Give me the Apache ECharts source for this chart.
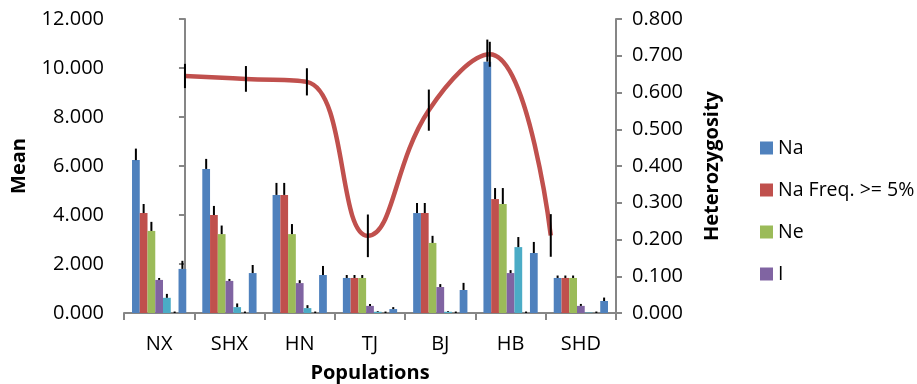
<!DOCTYPE html>
<html>
<head>
<meta charset="utf-8">
<script src="https://cdn.jsdelivr.net/npm/echarts@6/dist/echarts.min.js"></script>
<style>
  html, body { margin: 0; padding: 0; background: #fff; }
  #main { width: 917px; height: 384px; }
</style>
</head>
<body>
<div id="main"></div>
<script>
// populations on the x axis
const populations = ['NX', 'SHX', 'HN', 'TJ', 'BJ', 'HB', 'SHD'];

// bar series (left axis, Mean) with their +error
const na = [6.24, 5.88, 4.82, 1.43, 4.08, 10.26, 1.43];
const naErr = [0.47, 0.41, 0.49, 0.12, 0.41, 0.90, 0.10];
const naFreq = [4.08, 4.00, 4.82, 1.43, 4.08, 4.65, 1.43];
const naFreqErr = [0.37, 0.37, 0.49, 0.12, 0.41, 0.45, 0.10];
const ne = [3.35, 3.22, 3.22, 1.43, 2.86, 4.45, 1.43];
const neErr = [0.37, 0.35, 0.41, 0.12, 0.29, 0.65, 0.10];
const iVals = [1.35, 1.31, 1.22, 0.29, 1.06, 1.63, 0.29];
const iErr = [0.08, 0.08, 0.12, 0.08, 0.12, 0.12, 0.08];
const privAlleles = [0.62, 0.24, 0.20, 0.05, 0.05, 2.69, 0.02];
const privErr = [0.16, 0.15, 0.12, 0.03, 0.03, 0.41, 0.00];
const lComm25 = [0, 0, 0, 0, 0, 0, 0];
const lComm25Err = [0.06, 0.06, 0.06, 0.06, 0.06, 0.06, 0.06];
const lComm50 = [1.80, 1.63, 1.55, 0.16, 0.94, 2.45, 0.49];
const lComm50Err = [0.33, 0.33, 0.37, 0.08, 0.29, 0.45, 0.14];

// line (right axis, Heterozygosity) with +/- error
const he = [0.645, 0.637, 0.629, 0.210, 0.552, 0.704, 0.211];
const heErr = [0.033, 0.035, 0.037, 0.058, 0.056, 0.034, 0.058];

const meanTicks = { min: 0, max: 12, interval: 2 };
const hetTicks = { min: 0, max: 0.8, interval: 0.1 };

const FONT = 'Open Sans';
const FS = 20;
const catGap = 0.228;

const bars = [
    { name: 'Na', color: '#4F81BD', values: na, err: naErr },
    { name: 'Na Freq. >= 5%', color: '#C0504D', values: naFreq, err: naFreqErr },
    { name: 'Ne', color: '#9BBB59', values: ne, err: neErr },
    { name: 'I', color: '#8064A2', values: iVals, err: iErr },
    { name: 'No. Private Alleles', color: '#4BACC6', values: privAlleles, err: privErr },
    { name: 'No. LComm Alleles (<=25%)', color: '#F79646', values: lComm25, err: lComm25Err },
    { name: 'No. LComm Alleles (<=50%)', color: '#4F81BD', values: lComm50, err: lComm50Err }
];

const barErrData = [];
bars.forEach((b, k) => {
    b.values.forEach((v, i) => barErrData.push([i, v, b.err[i], k]));
});

const chart = echarts.init(document.getElementById('main'));

const axisLine = { show: true, lineStyle: { color: '#868686', width: 2 } };
const axisTick = { show: true, length: 6, lineStyle: { color: '#868686', width: 2 } };

const option = {
    animation: false,
    textStyle: { fontFamily: FONT },
    legend: {
        orient: 'vertical',
        left: 755,
        top: 133,
        itemWidth: 13,
        itemHeight: 13,
        itemGap: 22,
        icon: 'rect',
        data: ['Na', 'Na Freq. >= 5%', 'Ne', 'I'],
        textStyle: { fontFamily: FONT, fontSize: 19.5, color: '#000', lineHeight: 20 }
    },
    grid: { left: 124, right: 301, top: 19, bottom: 71, outerBoundsMode: 'none', containLabel: false },
    xAxis: [
        {
            type: 'category',
            data: populations,
            name: 'Populations',
            nameLocation: 'middle',
            nameGap: 50,
            nameTextStyle: { fontFamily: FONT, fontSize: FS, fontWeight: 'bold', color: '#000' },
            axisLine: axisLine,
            axisTick: { show: true, length: 7, alignWithLabel: false, lineStyle: { color: '#868686', width: 2 } },
            axisLabel: { margin: 21, fontSize: FS, color: '#000' }
        },
        { type: 'value', min: -1, max: 7.07, show: false }
    ],
    yAxis: [
        {
            type: 'value',
            min: meanTicks.min,
            max: meanTicks.max,
            interval: meanTicks.interval,
            name: 'Mean',
            nameLocation: 'middle',
            nameGap: 95,
            nameTextStyle: { fontFamily: FONT, fontSize: FS, fontWeight: 'bold', color: '#000' },
            axisLine: axisLine,
            axisTick: axisTick,
            splitLine: { show: false },
            axisLabel: { margin: 20, fontSize: FS, color: '#000', formatter: v => v.toFixed(3) }
        },
        {
            type: 'value',
            position: 'right',
            min: hetTicks.min,
            max: hetTicks.max,
            interval: hetTicks.interval,
            name: 'Heterozygosity',
            nameLocation: 'middle',
            nameGap: 86,
            nameRotate: 90,
            nameTextStyle: { fontFamily: FONT, fontSize: FS, fontWeight: 'bold', color: '#000' },
            axisLine: axisLine,
            axisTick: axisTick,
            splitLine: { show: false },
            axisLabel: { margin: 16, fontSize: FS, color: '#000', formatter: v => v.toFixed(3) }
        }
    ],
    series: []
};

bars.forEach(b => {
    option.series.push({
        name: b.name,
        type: 'bar',
        xAxisIndex: 0,
        yAxisIndex: 0,
        data: b.values,
        barGap: '0%',
        barCategoryGap: (catGap * 100) + '%',
        itemStyle: { color: b.color },
        z: 2
    });
});

// error bars on the bars (plus direction only)
option.series.push({
    name: 'barErr',
    type: 'custom',
    xAxisIndex: 0,
    yAxisIndex: 0,
    data: barErrData,
    z: 5,
    renderItem: function (params, api) {
        const cat = api.value(0), v = api.value(1), e = api.value(2), k = api.value(3);
        const band = api.size([1, 0])[0];
        const total = band * (1 - catGap);
        const bw = total / bars.length;
        const cx = api.coord([cat, 0])[0] - total / 2 + (k + 0.5) * bw;
        const y0 = api.coord([cat, v])[1];
        const y1 = api.coord([cat, v + e])[1];
        return {
            type: 'line',
            shape: { x1: cx, y1: y0, x2: cx, y2: y1 },
            style: { stroke: '#000', lineWidth: 2 }
        };
    }
});

// heterozygosity line
option.series.push({
    name: 'He',
    type: 'line',
    xAxisIndex: 1,
    yAxisIndex: 1,
    data: he.map((v, i) => [i, v]),
    smooth: 0.45,
    showSymbol: false,
    lineStyle: { color: '#C0504D', width: 4.5 },
    itemStyle: { color: '#C0504D' },
    z: 3
});

option.series.push({
    name: 'heErr',
    type: 'custom',
    xAxisIndex: 1,
    yAxisIndex: 1,
    data: he.map((v, i) => [i, v, heErr[i]]),
    z: 6,
    renderItem: function (params, api) {
        const i = api.value(0), v = api.value(1), e = api.value(2);
        const top = api.coord([i, v + e]);
        const bot = api.coord([i, v - e]);
        return {
            type: 'line',
            shape: { x1: top[0], y1: top[1], x2: bot[0], y2: bot[1] },
            style: { stroke: '#000', lineWidth: 2 }
        };
    }
});

chart.setOption(option);
</script>
</body>
</html>
